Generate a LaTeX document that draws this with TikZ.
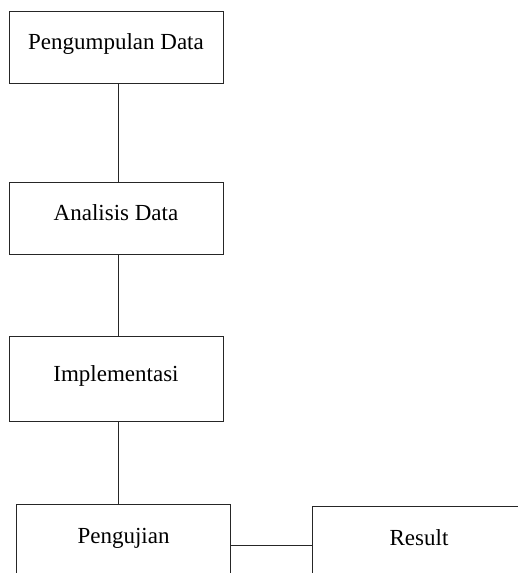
\documentclass[tikz,border=0pt]{standalone}
\usepackage{fontspec}
\setmainfont{Liberation Serif}
\usepackage{tikz}

\tikzset{
	stagebox/.style={draw=black!85, line width=1pt, minimum width=214pt, inner sep=0pt,
		text height=16pt, text depth=11pt, font=\fontsize{23}{28}\selectfont},
	link/.style={draw=black!85, line width=1pt}
}

\begin{document}
\begin{tikzpicture}[x=1pt, y=-1pt]
			\useasboundingbox (0,0) rectangle (518,573);
			
			% Stages
			\node[stagebox, minimum height=72pt] (pengumpulan) at (116,47) {Pengumpulan Data};
			\node[stagebox, minimum height=72pt] (analisis) at (116,218) {Analisis Data};
			\node[stagebox, minimum height=85pt] (implementasi) at (116,378.5) {Implementasi};
			\node[stagebox, minimum height=74pt] (pengujian) at (123.5,541) {Pengujian};
			\node[stagebox, minimum height=74pt] (result) at (419,543) {Result};
			
			% Vertical links
			\foreach \a/\b in {pengumpulan/analisis, analisis/implementasi}
			\draw[link] ([xshift=2.5pt]\a.south) -- ([xshift=2.5pt]\b.north);
			\draw[link] ([xshift=2.5pt]implementasi.south) -- ([xshift=2.5pt]implementasi.south |- pengujian.north);
			
			% Link to result
			\draw[link] ([yshift=-2pt]pengujian.east |- result.west) -- ([yshift=-2pt]result.west);
		\end{tikzpicture}
\end{document}
